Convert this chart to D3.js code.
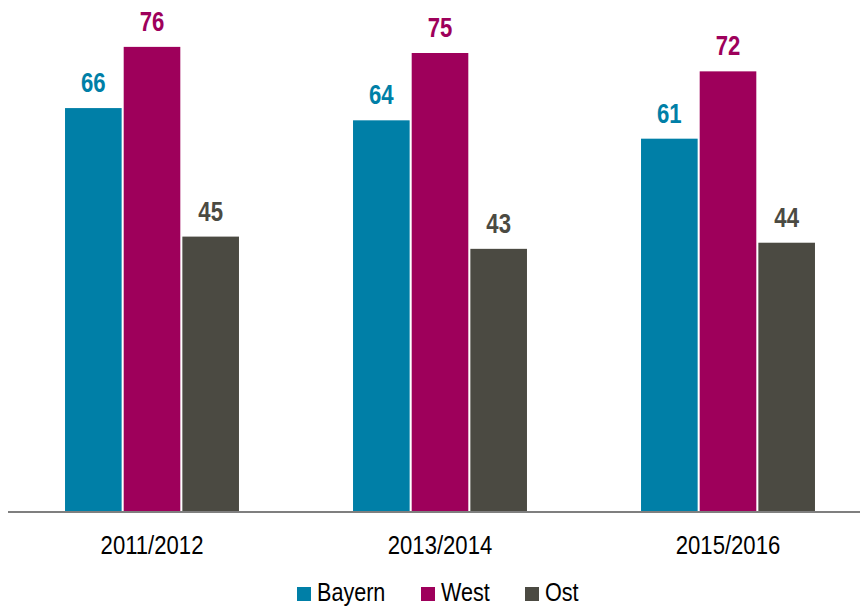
<!DOCTYPE html>
<html>
<head>
<meta charset="utf-8">
<script src="https://cdn.jsdelivr.net/npm/d3@7"></script>
<style>
  body { margin: 0; background: #fff; }
  svg { display: block; font-family: "Liberation Sans Narrow", "Arial Narrow", "Liberation Sans", sans-serif; }
</style>
</head>
<body>
<svg id="chart" width="860" height="606"></svg>
<script>
// Data
const years = ["2011/2012", "2013/2014", "2015/2016"];
const series = ["Bayern", "West", "Ost"];
const bayern = [66, 64, 61];
const west = [76, 75, 72];
const ost = [45, 43, 44];
const colors = ["#007fa7", "#9e005b", "#4b4a42"];

const values = [bayern, west, ost];

const svg = d3.select("#chart");
const baseY = 512;

// squeeze text horizontally to look like a narrow face
function narrow(sel, k) {
  sel.each(function() {
    const w = this.getComputedTextLength();
    d3.select(this)
      .attr("textLength", w * k)
      .attr("lengthAdjust", "spacingAndGlyphs");
  });
}

// Scales
const x0 = d3.scaleBand()
  .domain(years)
  .range([8, 872])
  .paddingInner(0.396)
  .paddingOuter(0.198);

const x1 = d3.scaleBand()
  .domain(series)
  .range([0, x0.bandwidth()])
  .paddingInner(0.035);

const y = d3.scaleLinear()
  .domain([0, 80])
  .range([baseY, baseY - 80 * 6.12]);

// Bars
const groups = svg.selectAll(".grp")
  .data(years)
  .join("g")
  .attr("class", "grp")
  .attr("transform", d => `translate(${x0(d)},0)`);

groups.selectAll("rect")
  .data((d, i) => series.map((s, j) => ({ s, j, v: values[j][i] })))
  .join("rect")
  .attr("x", d => x1(d.s))
  .attr("width", x1.bandwidth())
  .attr("y", d => y(d.v))
  .attr("height", d => baseY - y(d.v))
  .attr("fill", d => colors[d.j]);

// Value labels
groups.selectAll("text")
  .data((d, i) => series.map((s, j) => ({ s, j, v: values[j][i] })))
  .join("text")
  .attr("x", d => x1(d.s) + x1.bandwidth() / 2)
  .attr("y", d => y(d.v) - 16)
  .attr("text-anchor", "middle")
  .attr("font-size", 27)
  .attr("font-weight", "bold")
  .attr("fill", d => colors[d.j])
  .text(d => d.v)
  .call(narrow, 0.82);

// Axis
const axis = svg.append("g")
  .attr("transform", `translate(0,${baseY})`)
  .call(d3.axisBottom(x0).tickSize(0).tickPadding(0));
axis.select(".domain").remove();
axis.append("line")
  .attr("x1", 8).attr("x2", 860)
  .attr("stroke", "#7f7f7f")
  .attr("stroke-width", 2);
axis.selectAll(".tick text")
  .attr("dy", null)
  .attr("y", 42)
  .attr("font-size", 26)
  .attr("font-family", "Liberation Sans Narrow, Arial Narrow, Liberation Sans, sans-serif")
  .attr("fill", "#000")
  .call(narrow, 0.85);

// Legend
const legendX = [297, 421, 525];
const legend = svg.selectAll(".leg")
  .data(series)
  .join("g")
  .attr("class", "leg")
  .attr("transform", (d, i) => `translate(${legendX[i]},587)`);
legend.append("rect")
  .attr("width", 14).attr("height", 14)
  .attr("fill", (d, i) => colors[i]);
legend.append("text")
  .attr("x", 20)
  .attr("y", 14)
  .attr("font-size", 26)
  .attr("fill", "#000")
  .text(d => d)
  .call(narrow, 0.83);
</script>
</body>
</html>
